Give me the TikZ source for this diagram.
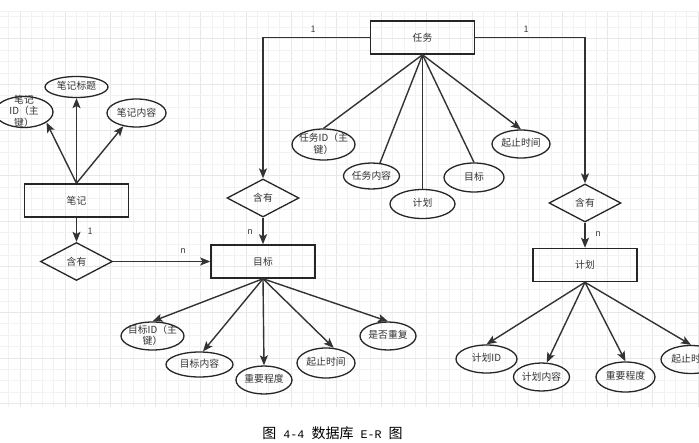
\documentclass[tikz,border=0pt]{standalone}
\usepackage{fontspec}
\newfontfamily\cjk{Noto Sans CJK SC}
\newfontfamily\capmono{Liberation Mono}
\usetikzlibrary{shapes.geometric,arrows.meta}
\newcommand{\zb}[1]{\raisebox{0pt}[0pt][0pt]{\makebox[0pt]{\raisebox{-3pt}{\begin{tabular}{@{}c@{}}#1\end{tabular}}}}}
\begin{document}
\begin{tikzpicture}[x=1pt,y=-1pt,
  minorgrid/.style={draw=black!5,line width=0.6pt},
  majorgrid/.style={draw=black!9,line width=0.6pt},
  ent/.style={draw=black!85,line width=1.5pt,rectangle,minimum width=104pt,minimum height=33pt,inner sep=0pt,font=\cjk\fontsize{9.8}{11}\selectfont,text=black!80},
  attr/.style={draw=black!85,line width=1.3pt,ellipse,inner sep=0pt,font=\cjk\fontsize{9.8}{11}\selectfont,text=black!80},
  rel/.style={draw=black!85,line width=1.3pt,diamond,minimum width=72pt,minimum height=38pt,inner sep=0pt,font=\cjk\fontsize{9.8}{11}\selectfont,text=black!80},
  ln/.style={draw=black!80,line width=1.4pt},
  arr/.style={ln,-{Stealth[length=10pt,width=8pt,inset=2.2pt]}},
  lab/.style={font=\cjk\fontsize{9}{10}\selectfont,text=black!75,inner sep=0pt}]
\useasboundingbox (0,0) rectangle (699,442);
\fill[white] (0,0) rectangle (699,442);
% grid
\foreach \i in {0,...,61}{
  \pgfmathtruncatemacro{\m}{mod(\i,4)}
  \ifnum\m=1 \draw[majorgrid] (8.5+\i*11.3,11) -- (8.5+\i*11.3,407);
  \else \draw[minorgrid] (8.5+\i*11.3,11) -- (8.5+\i*11.3,407); \fi
}
\draw[minorgrid] (0,11) -- (699,11);
\foreach \k in {1,...,35}{
  \pgfmathtruncatemacro{\m}{mod(\k,4)}
  \ifnum\m=3 \draw[majorgrid] (0,4.5+\k*11.4) -- (699,4.5+\k*11.4);
  \else \draw[minorgrid] (0,4.5+\k*11.4) -- (699,4.5+\k*11.4); \fi
}
% entities
\node[ent] (task) at (422.5,37.5) {任务};
\node[ent] (goal) at (263,261.5) {目标};
\node[ent] (note) at (76.5,200.5) {笔记};
\node[ent] (plan) at (585,265) {计划};
% relationships
\node[rel] (r1) at (263,198) {含有};
\node[rel] (r2) at (76.5,261.5) {含有};
\node[rel] (r3) at (585,203) {含有};
% note attributes
\node[attr,minimum width=58pt,minimum height=31pt] (nid) at (24,112) {\zb{笔记\\ID（主\\键）}};
\node[attr,minimum width=63pt,minimum height=21pt] (ntitle) at (76.5,87) {\zb{笔记标题}};
\node[attr,minimum width=59pt,minimum height=28pt] (ncont) at (136.5,113) {\zb{笔记内容}};
% task attributes
\node[attr,minimum width=63pt,minimum height=31pt] (tid) at (323.5,144.5) {\zb{任务ID（主\\键）}};
\node[attr,minimum width=56pt,minimum height=26pt] (tcont) at (371.5,176) {\zb{任务内容}};
\node[attr,minimum width=65pt,minimum height=29pt] (tplan) at (422.5,204) {\zb{计划}};
\node[attr,minimum width=60pt,minimum height=29pt] (tgoal) at (474,177.5) {\zb{目标}};
\node[attr,minimum width=58pt,minimum height=28pt] (ttime) at (521,144) {\zb{起止时间}};
% goal attributes
\node[attr,minimum width=63pt,minimum height=28pt] (gid) at (152.5,336) {\zb{目标ID（主\\键）}};
\node[attr,minimum width=67pt,minimum height=25pt] (gcont) at (199.5,364.5) {\zb{目标内容}};
\node[attr,minimum width=56pt,minimum height=28pt] (gimp) at (264,380) {\zb{重要程度}};
\node[attr,minimum width=58pt,minimum height=30pt] (gtime) at (326,363) {\zb{起止时间}};
\node[attr,minimum width=56pt,minimum height=28pt] (grep) at (388,336) {\zb{是否重复}};
% plan attributes
\node[attr,minimum width=61pt,minimum height=28pt] (pid) at (486.5,359) {\zb{计划ID}};
\node[attr,minimum width=56pt,minimum height=28pt] (pcont) at (541.5,377) {\zb{计划内容}};
\node[attr,minimum width=59pt,minimum height=30pt] (pimp) at (625.5,377) {\zb{重要程度}};
\node[attr,minimum width=60pt,minimum height=28pt] (ptime) at (691,359.5) {\zb{起止时间}};
% relationship connectors
\draw[arr] (task.west) -| (r1.north);
\draw[arr] (task.east) -| (r3.north);
\draw[arr] (r1.south) -- (goal.north);
\draw[arr] (r3.south) -- (plan.north);
\draw[arr] (note.south) -- (r2.north);
\draw[arr] (r2.east) -- (goal.west);
% cardinality labels
\node[lab] (c1) at (313,29) {1};
\node[lab] (c2) at (526,29) {1};
\node[lab] (c3) at (250,232) {n};
\node[lab] (c4) at (90,231) {1};
\node[lab] (c5) at (183,251) {n};
\node[lab] (c6) at (598,234) {n};
% note attribute connectors
\draw[arr] (note.north) -- (nid.-25);
\draw[arr] (note.north) -- (ntitle.south);
\draw[arr] (note.north) -- (ncont.-135);
% task attribute connectors
\draw[ln] (task.south) -- (tid.north);
\draw[ln] (task.south) -- (tcont.57);
\draw[ln] (task.south) -- (tplan.north);
\draw[ln] (task.south) -- (tgoal.north);
\draw[arr] (task.south) -- (ttime.north);
% goal attribute connectors
\draw[arr] (goal.south) -- (gid.north);
\draw[arr] (goal.south) -- (gcont.75);
\draw[arr] (goal.south) -- (gimp.north);
\draw[arr] (goal.south) -- (gtime.63);
\draw[arr] (goal.south) -- (grep.north);
% plan attribute connectors
\draw[arr] (plan.south) -- (pid.north);
\draw[arr] (plan.south) -- (pcont.70);
\draw[arr] (plan.south) -- (pimp.north);
\draw[arr] (plan.south) -- (ptime.north);
% caption
\node[font=\cjk\fontsize{14}{16}\selectfont,inner sep=0pt] (cap) at (332.5,433) {图\hspace{7pt}{\capmono\fontsize{11.7}{14}\selectfont 4-4}\hspace{7pt}数据库\hspace{7pt}{\capmono\fontsize{11.7}{14}\selectfont E-R}\hspace{7pt}图};
\end{tikzpicture}
\end{document}
